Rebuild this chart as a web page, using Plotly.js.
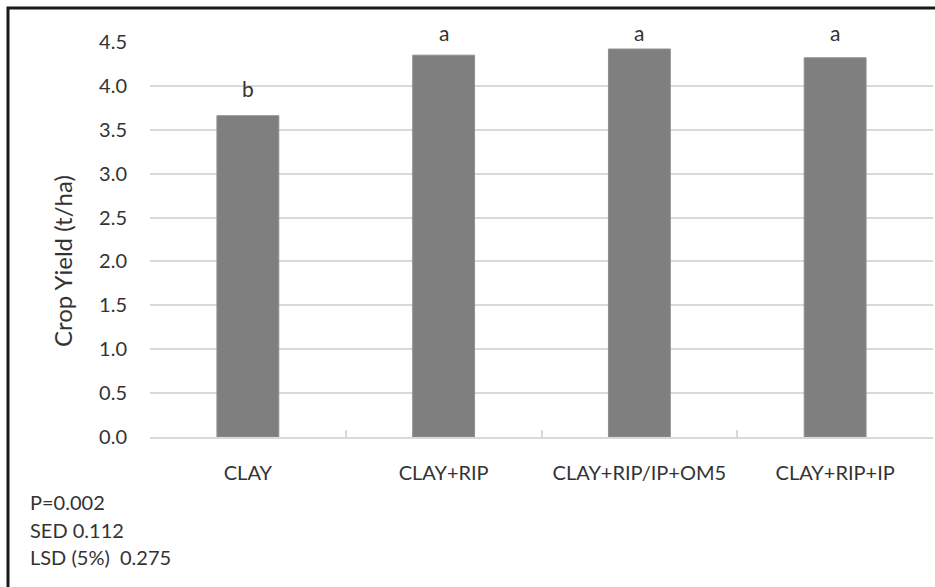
<!DOCTYPE html>
<html>
<head>
<meta charset="utf-8">
<script src="https://cdn.plot.ly/plotly-3.0.1.min.js"></script>
<style>
html,body{margin:0;padding:0;background:#fff;}
#chart{width:935px;height:587px;}
</style>
</head>
<body>
<div id="chart"></div>
<script>
const categories = ["CLAY", "CLAY+RIP", "CLAY+RIP/IP+OM5", "CLAY+RIP+IP"];
const yieldValues = [3.66, 4.35, 4.42, 4.32];
const letters = ["b", "a", "a", "a"];
const yTickVals = [0, 0.5, 1, 1.5, 2, 2.5, 3, 3.5, 4, 4.5];
const yTickText = ["0.0", "0.5", "1.0", "1.5", "2.0", "2.5", "3.0", "3.5", "4.0", "4.5"];
const statsLines = ["P=0.002", "SED 0.112", "LSD (5%)\u00a0 0.275"];
const yTitle = "Crop Yield (t/ha)";

const FONT = "Lato, 'Open Sans', sans-serif";
const TXT = "#333333";
const YMAX = 4.5;

const L = 150, R = 2, T = 42, B = 150;
const W = 935, H = 587;
const pw = W - L - R, ph = H - T - B;

const trace = {
  type: "bar",
  x: categories,
  y: yieldValues,
  marker: { color: "#7f7f7f", line: { color: "#8e8e8e", width: 1 } },
  hoverinfo: "skip"
};

const annotations = letters.map((l, i) => ({
  x: categories[i],
  xref: "x",
  y: Math.min(yieldValues[i] + 0.31, 4.61) / YMAX,
  yref: "paper",
  text: l,
  showarrow: false,
  yanchor: "middle",
  font: { family: FONT, size: 21, color: TXT }
}));

statsLines.forEach((s, i) => {
  annotations.push({
    x: (28 - L) / pw, xref: "paper", xanchor: "left",
    y: (H - B - (502 + i * 27.5)) / ph, yref: "paper", yanchor: "middle",
    text: s, showarrow: false,
    font: { family: FONT, size: 20, color: TXT }
  });
});

annotations.push({
  x: (62 - L) / pw, xref: "paper", xanchor: "center",
  y: (H - B - 261) / ph, yref: "paper", yanchor: "middle",
  text: yTitle, textangle: -90, showarrow: false,
  font: { family: FONT, size: 24, color: TXT }
});

const layout = {
  width: W, height: H,
  margin: { l: L, r: R, t: T, b: B, pad: 0 },
  paper_bgcolor: "#ffffff",
  plot_bgcolor: "#ffffff",
  showlegend: false,
  bargap: 0.684,
  xaxis: {
    type: "category",
    tickson: "boundaries",
    ticks: "inside",
    ticklen: 7,
    tickwidth: 2,
    tickcolor: "#d9d9d9",
    showline: true,
    linecolor: "#d9d9d9",
    linewidth: 2,
    showgrid: false,
    zeroline: false,
    ticklabelstandoff: 17,
    tickfont: { family: FONT, size: 20, color: TXT }
  },
  yaxis: {
    range: [0, YMAX],
    tickvals: yTickVals,
    ticktext: yTickText,
    showgrid: true,
    gridcolor: "#d9d9d9",
    gridwidth: 2,
    zeroline: false,
    showline: false,
    ticks: "",
    ticklabelstandoff: 22,
    tickfont: { family: FONT, size: 20, color: TXT }
  },
  annotations: annotations,
  shapes: [{
    type: "rect", xref: "paper", yref: "paper",
    x0: (8 - L) / pw, x1: (W + 20 - L) / pw,
    y0: (H - B - (H + 20)) / ph, y1: (H - B - 8) / ph,
    line: { color: "#1a1a1a", width: 3 },
    fillcolor: "rgba(0,0,0,0)",
    layer: "above"
  }]
};

Plotly.newPlot("chart", [trace], layout, { displayModeBar: false, staticPlot: true });
</script>
</body>
</html>
